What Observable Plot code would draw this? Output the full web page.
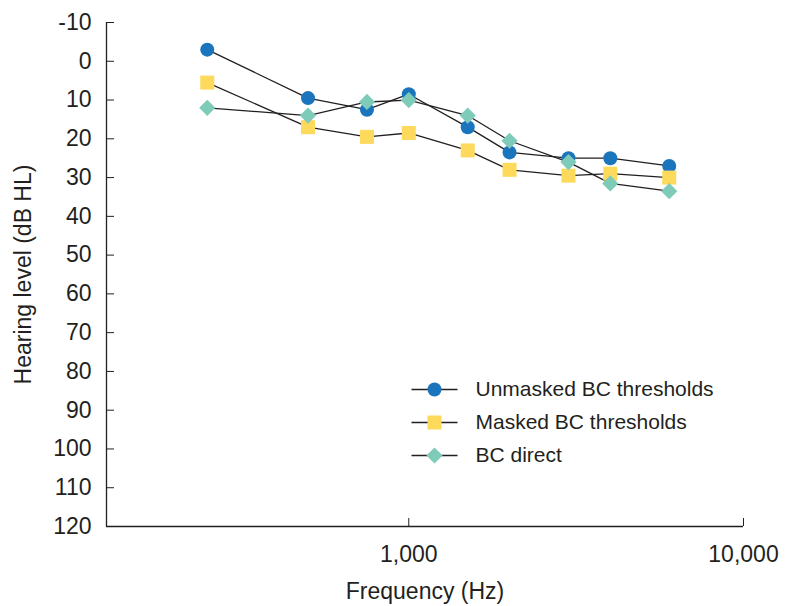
<!DOCTYPE html>
<html><head><meta charset="utf-8">
<script src="https://cdn.jsdelivr.net/npm/d3@7"></script>
<script src="https://cdn.jsdelivr.net/npm/@observablehq/plot@0.6"></script>
<style>body{margin:0;background:#fff;}</style>
</head><body><div id="chart"></div>
<script>
const frequencies = [250, 500, 750, 1000, 1500, 2000, 3000, 4000, 6000];
const unmasked = [-3, 9.5, 12.5, 8.5, 17, 23.5, 25, 25, 27];
const masked = [5.5, 17, 19.5, 18.5, 23, 28, 29.5, 29, 30];
const bcDirect = [12, 14, 10.5, 10, 14, 20.5, 26, 31.5, 33.5];
const seriesNames = ["Unmasked BC thresholds", "Masked BC thresholds", "BC direct"];
const seriesColors = ["#1b75bc", "#fdd95c", "#7fcbba"];
const seriesSymbols = ["circle", "square", "diamond2"];
const seriesRadii = [7, 7.9, 7.3];
const xTicks = [1000, 10000];
const xTickLabels = ["1,000", "10,000"];
const yTicks = [-10, 0, 10, 20, 30, 40, 50, 60, 70, 80, 90, 100, 110, 120];
const xDomain = [125, 10000];
const yDomain = [-10, 120];

const seriesValues = [unmasked, masked, bcDirect];
const table = seriesValues.flatMap((vals, i) =>
  frequencies.map((f, j) => ({series: seriesNames[i], freq: f, value: vals[j]})));

const ink = "#231f20";
const marks = [
  Plot.ruleX([xDomain[0]], {stroke: ink, strokeWidth: 1.3}),
  Plot.ruleY([yDomain[1]], {stroke: ink, strokeWidth: 1.3}),
  Plot.axisY({ticks: yTicks, tickFormat: d => String(d), tickSize: -8, tickPadding: 23, fontSize: 23, stroke: ink, fill: ink,
    label: "Hearing level (dB HL)", labelAnchor: "center", labelOffset: 92, labelArrow: "none"}),
  Plot.axisX({ticks: xTicks, tickFormat: d => xTickLabels[xTicks.indexOf(d)], tickSize: -8, tickPadding: 27, fontSize: 23, stroke: ink, fill: ink,
    label: "Frequency (Hz)", labelAnchor: "center", labelOffset: 72, labelArrow: "none"})
];
seriesNames.forEach((name) => {
  marks.push(Plot.line(table.filter(d => d.series === name), {x: "freq", y: "value", stroke: ink, strokeWidth: 1.3}));
});
seriesNames.forEach((name, i) => {
  marks.push(Plot.dot(table.filter(d => d.series === name), {x: "freq", y: "value", symbol: seriesSymbols[i], r: seriesRadii[i], fill: seriesColors[i], stroke: "none"}));
});
// legend
const lineSymbol = {draw(ctx) { ctx.moveTo(-23, 0); ctx.lineTo(23, 0); }};
const legendX = 328, legendY0 = 367, legendStep = 33;
seriesNames.forEach((name, i) => {
  const dy = legendY0 + i * legendStep;
  marks.push(Plot.dot([name], {frameAnchor: "top-left", dx: legendX, dy, symbol: lineSymbol, r: 5, stroke: ink, fill: "none", strokeWidth: 1.3}));
  marks.push(Plot.dot([name], {frameAnchor: "top-left", dx: legendX, dy, symbol: seriesSymbols[i], r: seriesRadii[i], fill: seriesColors[i], stroke: "none"}));
  marks.push(Plot.text([name], {frameAnchor: "top-left", dx: legendX + 41, dy, text: d => d, textAnchor: "start", lineAnchor: "middle", fontSize: 21, fill: ink}));
});

const chart = Plot.plot({
  width: 787, height: 606,
  marginTop: 22, marginBottom: 80, marginLeft: 106, marginRight: 44,
  style: {fontFamily: "'Liberation Sans', Arial, sans-serif", background: "#fff", color: ink},
  x: {type: "log", domain: xDomain},
  y: {domain: yDomain, reverse: true},
  marks
});
document.getElementById("chart").appendChild(chart);
</script>
</body></html>
